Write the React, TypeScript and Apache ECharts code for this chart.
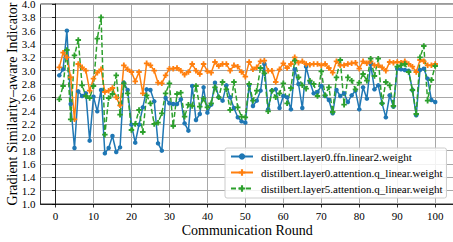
import { useEffect, useRef } from "react";
import * as echarts from "echarts";

const rounds: number[] = Array.from({ length: 100 }, (_, i) => i + 1);

const ffnLinear2: number[] = [
  2.93, 3.02, 3.6, 2.5, 1.84, 2.69, 2.62, 2.66, 1.95, 2.61,
  2.39, 2.71, 1.76, 1.84, 2.02, 1.78, 1.85, 2.82, 2.71, 2.19,
  1.92, 2.19, 2.45, 2.72, 2.71, 2.54, 1.91, 1.8, 2.59, 2.51,
  2.5, 2.5, 2.57, 2.21, 2.1, 2.77, 2.26, 2.35, 2.75, 2.37,
  2.49, 2.82, 2.6, 2.55, 2.78, 2.6, 2.44, 2.3, 2.24, 2.22,
  2.78, 2.47, 2.55, 2.7, 3.1, 2.42, 2.7, 2.72, 2.44, 2.62,
  2.6, 2.42, 3.02, 2.8, 2.44, 3.06, 2.83, 2.66, 2.68, 2.77,
  2.62, 2.56, 2.36, 2.71, 2.62, 2.66, 2.53, 2.63, 2.7, 2.42,
  2.75, 2.58, 3.1, 2.72, 2.78, 2.51, 2.3, 2.63, 2.46, 3.03,
  3.02, 3.01, 3.0, 2.71, 2.33, 3.01, 3.03, 2.88, 2.56, 2.53,
];

const attnQLayer0: number[] = [
  3.05, 3.27, 3.2, 2.9, 2.27, 3.1, 3.05, 3.0, 2.7, 2.88,
  2.97, 3.02, 2.68, 2.7, 2.74, 2.6, 2.48, 3.08, 3.02, 2.98,
  2.84, 2.98, 2.66, 3.11, 3.08, 3.0, 2.82, 2.81, 2.93, 3.03,
  3.03, 3.04, 3.0, 2.94, 2.98, 3.1, 3.0, 2.95, 3.1, 2.99,
  2.97, 3.13, 3.07, 3.1, 3.1, 3.0, 3.08, 3.06, 2.98, 2.91,
  3.13, 3.02, 3.05, 3.14, 3.15, 3.0, 3.0, 2.83, 3.02, 3.11,
  3.04, 3.1, 3.2, 3.12, 3.14, 3.1, 3.09, 3.1, 3.1, 3.08,
  3.1, 3.04, 2.97, 3.14, 3.08, 3.08, 3.1, 3.11, 3.12, 3.03,
  3.14, 3.11, 3.14, 3.08, 3.08, 3.05, 3.0, 3.13, 3.12, 3.13,
  3.12, 3.14, 3.1, 3.06, 2.98, 3.16, 3.14, 3.08, 3.08, 3.1,
];

const attnQLayer5: number[] = [
  2.57, 2.77, 3.31, 2.27, 3.23, 3.46, 2.78, 2.62, 2.59, 2.77,
  3.48, 3.8, 2.04, 2.59, 2.65, 2.93, 2.34, 2.81, 2.66, 2.11,
  2.2, 2.41, 2.08, 2.63, 2.51, 2.2, 2.22, 2.36, 2.66, 2.81,
  2.17, 2.65, 2.67, 2.31, 2.49, 2.47, 2.77, 2.46, 2.58, 2.45,
  2.51, 2.75, 2.6, 2.83, 2.72, 2.41, 2.83, 2.45, 2.31, 2.3,
  2.8, 2.55, 2.7, 3.04, 2.96, 2.39, 2.7, 2.6, 2.66, 2.81,
  2.51, 2.74, 3.15, 2.9, 2.78, 2.73, 2.85, 2.8, 2.62, 2.99,
  2.63, 2.75, 2.38, 2.9, 3.16, 2.49, 2.9, 2.85, 2.72, 2.82,
  2.95, 2.85, 3.18, 2.92, 3.18, 2.51, 2.83, 2.78, 2.47, 3.06,
  3.08, 3.1, 2.98, 2.71, 2.35, 3.2, 3.37, 2.55, 2.86, 3.07,
];

const xTicks: number[] = [0, 10, 20, 30, 40, 50, 60, 70, 80, 90, 100];

const seriesNames: string[] = [
  "distilbert.layer0.ffn.linear2.weight",
  "distilbert.layer0.attention.q_linear.weight",
  "distilbert.layer5.attention.q_linear.weight",
];

const FONT = "'Liberation Serif', 'Times New Roman', serif";
const PLUS = "path://M2,0 H4 V2 H6 V4 H4 V6 H2 V4 H0 V2 H2 Z";

export default function App() {
  const ref = useRef<HTMLDivElement>(null);

  useEffect(() => {
    if (!ref.current) return;
    const chart = echarts.init(ref.current, null, { renderer: "svg" });
    const pair = (vals: number[]) => rounds.map((r, i) => [r, vals[i]]);

    chart.setOption({
      animation: false,
      backgroundColor: "#ffffff",
      textStyle: { fontFamily: FONT },
      grid: {
        left: 40.5,
        top: 4,
        right: -1,
        bottom: 38,
        show: true,
        borderColor: "#000000",
        borderWidth: 0.8,
        backgroundColor: "transparent",
        outerBoundsMode: "none",
        containLabel: false,
      },
      legend: {
        orient: "vertical",
        left: 225,
        top: 148,
        padding: [3, 4, 4, 5],
        itemGap: 5,
        itemWidth: 22,
        itemHeight: 8,
        backgroundColor: "rgba(255,255,255,0.85)",
        borderColor: "#cccccc",
        borderWidth: 1,
        borderRadius: 2,
        textStyle: {
          fontFamily: FONT,
          fontSize: 11,
          color: "#000000",
          lineHeight: 11,
          padding: [0, 0, 0, 3],
        },
        data: seriesNames,
      },
      xAxis: {
        type: "value",
        min: -3.95,
        max: 104.95,
        name: "Communication Round",
        nameLocation: "middle",
        nameGap: 19,
        nameMoveOverlap: false,
        nameTextStyle: { fontFamily: FONT, fontSize: 14, color: "#000000" },
        axisLine: { show: true, lineStyle: { color: "#000000", width: 0.8 } },
        axisTick: {
          show: true,
          length: 3.5,
          inside: false,
          customValues: xTicks,
          lineStyle: { color: "#000000", width: 0.8 },
        },
        axisLabel: {
          customValues: xTicks,
          margin: 6,
          fontFamily: FONT,
          fontSize: 11,
          color: "#000000",
        },
        splitLine: { show: true, lineStyle: { color: "#a8a8a8", width: 1 } },
      },
      yAxis: {
        type: "value",
        min: 1.0,
        max: 4.0,
        interval: 0.2,
        name: "Gradient Similarity\u2013aware Indicator",
        nameLocation: "middle",
        nameGap: 21,
        nameMoveOverlap: false,
        nameTextStyle: { fontFamily: FONT, fontSize: 14, color: "#000000" },
        axisLine: { show: true, lineStyle: { color: "#000000", width: 0.8 } },
        axisTick: {
          show: true,
          length: 3.5,
          inside: false,
          lineStyle: { color: "#000000", width: 0.8 },
        },
        axisLabel: {
          margin: 5,
          fontFamily: FONT,
          fontSize: 11,
          lineHeight: 8,
          color: "#000000",
          formatter: (v: number) => v.toFixed(1),
        },
        splitLine: { show: true, lineStyle: { color: "#a8a8a8", width: 1 } },
      },
      series: [
        {
          name: seriesNames[0],
          type: "line",
          data: pair(ffnLinear2),
          symbol: "circle",
          symbolSize: 4.5,
          showAllSymbol: true,
          color: "#1f77b4",
          lineStyle: { width: 1.5, color: "#1f77b4" },
          itemStyle: { color: "#1f77b4" },
        },
        {
          name: seriesNames[1],
          type: "line",
          data: pair(attnQLayer0),
          symbol: PLUS,
          symbolSize: 5.5,
          showAllSymbol: true,
          color: "#ff7f0e",
          lineStyle: { width: 1.5, color: "#ff7f0e" },
          itemStyle: { color: "#ff7f0e" },
        },
        {
          name: seriesNames[2],
          type: "line",
          data: pair(attnQLayer5),
          symbol: PLUS,
          symbolSize: 5.5,
          showAllSymbol: true,
          color: "#2ca02c",
          lineStyle: { width: 1.5, color: "#2ca02c", type: [5, 2.5] },
          itemStyle: { color: "#2ca02c" },
        },
      ],
    });

    return () => chart.dispose();
  }, []);

  return (
    <div
      ref={ref}
      style={{ position: "fixed", left: 0, top: 0, width: 453, height: 242 }}
    />
  );
}
